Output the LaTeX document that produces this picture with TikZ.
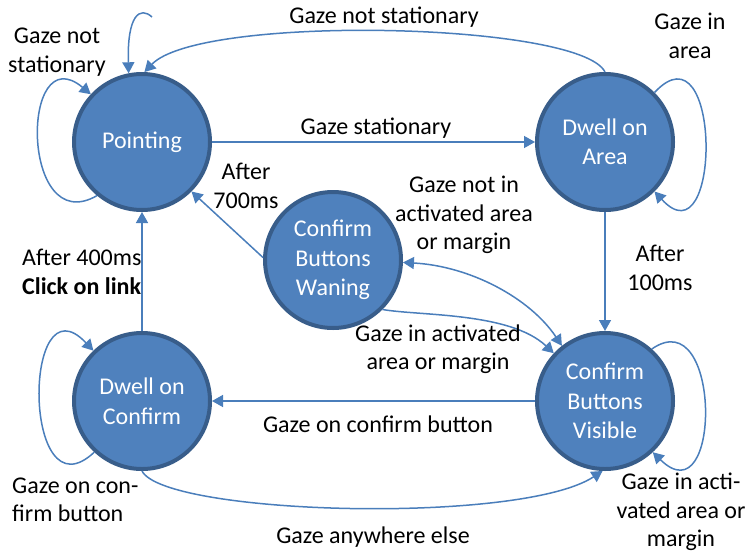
\documentclass[tikz,border=0pt]{standalone}
\usepackage{fontspec}
\setmainfont{Carlito}
\usetikzlibrary{arrows.meta}
\definecolor{fillblue}{HTML}{4F81BD}
\definecolor{edgeblue}{HTML}{385D8A}
\definecolor{linkblue}{HTML}{4A7EBB}
\begin{document}
\begin{tikzpicture}[x=1pt,y=-1pt,
  state/.style={circle, draw=edgeblue, fill=fillblue, line width=4pt, minimum size=136pt, inner sep=0pt, text=white, align=center, font=\fontsize{24}{29.5}\selectfont},
  lbl/.style={align=center, inner sep=0pt, font=\fontsize{24}{28.5}\selectfont},
  conn/.style={draw=linkblue, line width=1.5pt, -{Triangle[length=11pt,width=12pt]}},
  connboth/.style={draw=linkblue, line width=1.5pt, {Triangle[length=11pt,width=12pt]}-{Triangle[length=11pt,width=12pt]}},
]
\useasboundingbox (0,0) rectangle (746,554);

% states
\node[state] (P) at (142,142) {Pointing};
\node[state] (A) at (605,142) {Dwell on\\Area};
\node[state] (W) at (333,260) {Confirm\\Buttons\\Waning};
\node[state] (C) at (142,401) {Dwell on\\Confirm};
\node[state] (V) at (605,401) {Confirm\\Buttons\\Visible};

% stray hook above Pointing
\coordinate (h) at (152,17);

% connectors
\draw[conn] (P.0) -- (A.180);
\draw[conn] (A.90) .. controls (580,22) and (200,14) .. (P.88);
\draw[conn] (h) .. controls (140,6) and (127,15) .. (P.101);
\draw[conn] (P.230) .. controls (20,240) and (20,35) .. (P.137);
\draw[conn] (A.45) .. controls (722,20) and (722,265) .. (A.-45);
\draw[conn] (A.-90) -- (V.90);
\draw[conn] (V.48) .. controls (722,300) and (722,520) .. (V.-47);
\draw[conn] (W.178) -- (P.-45);
\draw[connboth] (W.-2) .. controls (470,266) and (530,298) .. (V.128);
\draw[conn] (W.-45) .. controls (420,316) and (510,312) .. (V.137);
\draw[conn] (C.90) -- (P.-90);
\draw[conn] (V.180) -- (C.0);
\draw[conn] (C.-90) .. controls (165,515) and (520,525) .. (V.-92);
\draw[conn] (C.227) .. controls (22,520) and (22,275) .. (C.134);

% labels
\node[lbl] (l1) at (384,17) {Gaze not stationary};
\node[lbl] (l2) at (690,36) {Gaze in\\area};
\node[lbl] (l3) at (57,52) {Gaze not\\stationary};
\node[lbl] (l4) at (376,128) {Gaze stationary};
\node[lbl] (l5) at (246,186) {After\\700ms};
\node[lbl] (l6) at (464,215) {Gaze not in\\activated area\\or margin};
\node[lbl, align=left, anchor=west] (l7) at (22,272) {After 400ms\\\textbf{Click on link}};
\node[lbl] (l8) at (660,268) {After\\100ms};
\node[lbl] (l9) at (438,349) {Gaze in activated\\area or margin};
\node[lbl] (l10) at (378,424) {Gaze on confirm button};
\node[lbl, align=left, anchor=west] (l11) at (12,500) {Gaze on con-\\firm button};
\node[lbl] (l12) at (373,537) {Gaze anywhere else};
\node[lbl] (l13) at (681,512) {Gaze in acti-\\vated area or\\margin};
\end{tikzpicture}
\end{document}
